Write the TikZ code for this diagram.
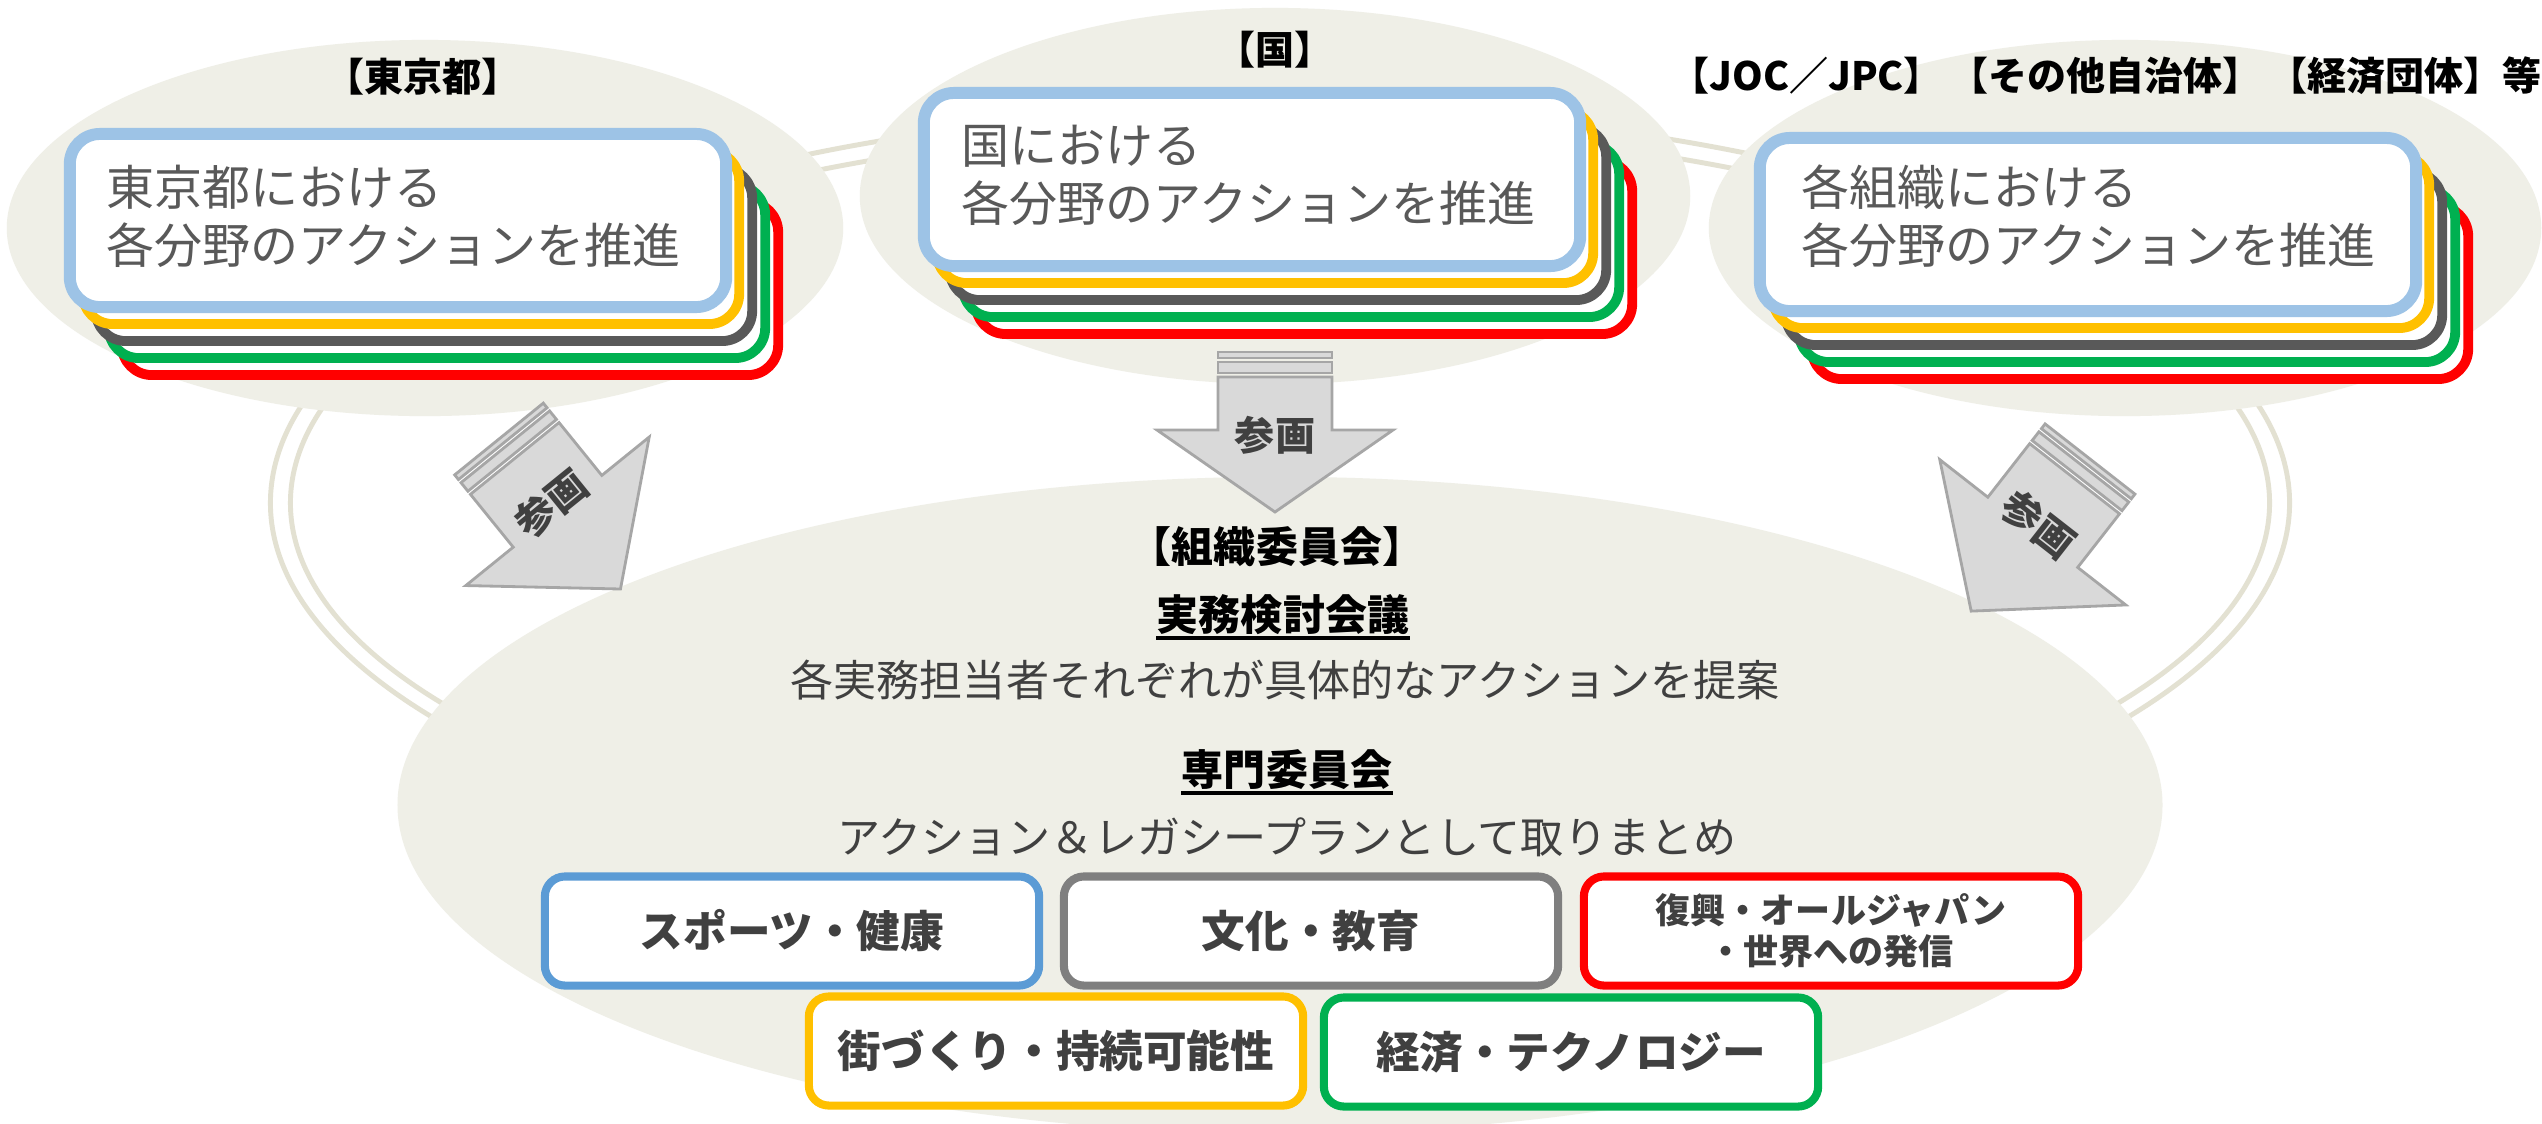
\documentclass[tikz,border=0pt]{standalone}
\usepackage{fontspec}
\setmainfont{Noto Sans CJK JP}
\usetikzlibrary{calc}

\definecolor{ovalFill}{HTML}{EFEFE7}
\definecolor{ringLine}{HTML}{E3E1D2}
\definecolor{paleBlue}{HTML}{9DC3E6}
\definecolor{ringYellow}{HTML}{FFC000}
\definecolor{ringGray}{HTML}{595959}
\definecolor{ringGreen}{HTML}{00B050}
\definecolor{ringRed}{HTML}{FF0000}
\definecolor{fieldBlue}{HTML}{5B9BD5}
\definecolor{fieldGray}{HTML}{7F7F7F}
\definecolor{arrowFill}{HTML}{D9D9D9}
\definecolor{arrowLine}{HTML}{A6A6A6}
\definecolor{textGray}{HTML}{595959}
\definecolor{textDark}{HTML}{404040}

\def\boxWidth{6.56cm}
\def\boxHeight{1.73cm}
\def\fieldWidth{4.94cm}
\def\fieldHeight{1.09cm}
\def\stepX{13}
\def\stepY{17}

\tikzset{
  oval/.style={fill=ovalFill},
  ring/.style={draw=ringLine, line width=1.4pt},
  frontbox/.style={draw=paleBlue, fill=white, line width=3.4pt, rounded corners=0.3cm,
    minimum width=\boxWidth, minimum height=\boxHeight},
  backbox/.style={draw=#1, fill=white, line width=2.8pt, rounded corners=0.3cm,
    minimum width=\boxWidth, minimum height=\boxHeight},
  boxtext/.style={text=textGray, align=left, inner sep=0pt, anchor=west,
    font=\fontsize{13.66}{16.5}\selectfont},
  grouplabel/.style={inner sep=0pt, font=\bfseries\fontsize{11.1}{13}\selectfont},
  orglabel/.style={inner sep=0pt, font=\bfseries\fontsize{11.95}{14}\selectfont},
  midtext/.style={inner sep=0pt, text=textDark, font=\fontsize{12.25}{15}\selectfont},
  fieldbox/.style={draw=#1, fill=white, line width=2.3pt, rounded corners=0.2cm,
    minimum width=\fieldWidth, minimum height=\fieldHeight, text=textDark, align=center,
    font=\bfseries\fontsize{12.4}{14}\selectfont},
  arrowpart/.style={fill=arrowFill, draw=arrowLine, line width=0.8pt},
  arrowtext/.style={inner sep=0pt, text=textDark, font=\bfseries\fontsize{11.4}{13}\selectfont},
  pics/joinarrow/.style args={#1/#2}{code={
    \draw[arrowpart] (-57,0) rectangle (57,6);
    \draw[arrowpart] (-57,10) rectangle (57,21);
    \draw[arrowpart] (-57,25) -- (-57,25+#1) -- (-118,25+#1) -- (0,25+#1+#2)
      -- (118,25+#1) -- (57,25+#1) -- (57,25) -- cycle;
    \node[arrowtext, transform shape] (-label) at (0,83) {参画};
  }}
}

\begin{document}
\begin{tikzpicture}[x=0.01cm, y=-0.01cm]
  \useasboundingbox (0,0) rectangle (2542,1123);
  \fill[white] (0,0) rectangle (2542,1123);

  % double ring behind the ovals
  \draw[ring] (1280,503) ellipse [x radius=10.09cm, y radius=3.94cm];
  \draw[ring] (1280,503) ellipse [x radius=9.89cm, y radius=3.76cm];

  \fill[oval] (425,228) ellipse [x radius=4.18cm, y radius=1.88cm];
  \fill[oval] (1275,196) ellipse [x radius=4.15cm, y radius=1.88cm];
  \fill[oval] (2125,228) ellipse [x radius=4.16cm, y radius=1.88cm];
  \fill[oval] (1280,805) ellipse [x radius=8.82cm, y radius=3.28cm];

  % stacked cards
  \foreach \name/\cx/\cy in {tokyo/398/220.5, kuni/1252/179.5, others/2088/224.5} {
    \foreach \c/\k in {ringRed/4, ringGreen/3, ringGray/2, ringYellow/1} {
      \node[backbox=\c] (\name\k) at (\cx+\k*\stepX, \cy+\k*\stepY) {};
    }
    \node[frontbox] (\name) at (\cx,\cy) {};
  }

  \node[boxtext] (tokyoText) at (106,216) {東京都における\\各分野のアクションを推進};
  \node[boxtext] (kuniText) at (961,175) {国における\\各分野のアクションを推進};
  \node[boxtext] (othersText) at (1801,216) {各組織における\\各分野のアクションを推進};

  \node[grouplabel] (tokyoLabel) at (423,77) {【東京都】};
  \node[grouplabel] (kuniLabel) at (1275,50) {【国】};
  \node[grouplabel] (othersLabel) at (2106,76) {【JOC／JPC】\,【その他自治体】\,【経済団体】等};

  % arrows into the committee
  \pic (leftArrow) [rotate=39] at (499,439) {joinarrow=68/100};
  \pic (midArrow) at (1275,352) {joinarrow=53/82};
  \pic (rightArrow) [rotate=-38] at (2090,459) {joinarrow=68/100};

  \node[orglabel] (soshiki) at (1277,547) {【組織委員会】};
  \node[orglabel] (jitsumu) at (1283,615) {実務検討会議};
  \draw[line width=1pt] ([yshift=-0.07cm]jitsumu.base west) -- ([yshift=-0.07cm]jitsumu.base east);
  \node[midtext] (teian) at (1285,680) {各実務担当者それぞれが具体的なアクションを提案};
  \node[orglabel] (senmon) at (1287,770) {専門委員会};
  \draw[line width=1pt] ([yshift=-0.07cm]senmon.base west) -- ([yshift=-0.07cm]senmon.base east);
  \node[midtext] (matome) at (1287,837) {アクション＆レガシープランとして取りまとめ};

  % fields
  \node[fieldbox=fieldBlue] (sport) at (792,931) {スポーツ・健康};
  \node[fieldbox=fieldGray] (culture) at (1311,931) {文化・教育};
  \node[fieldbox=ringRed, font=\bfseries\fontsize{9.96}{11.7}\selectfont] (recovery) at (1831,931) {復興・オールジャパン\\・世界への発信};
  \node[fieldbox=ringYellow] (town) at (1056,1051) {街づくり・持続可能性};
  \node[fieldbox=ringGreen] (economy) at (1571,1052) {経済・テクノロジー};
\end{tikzpicture}
\end{document}
